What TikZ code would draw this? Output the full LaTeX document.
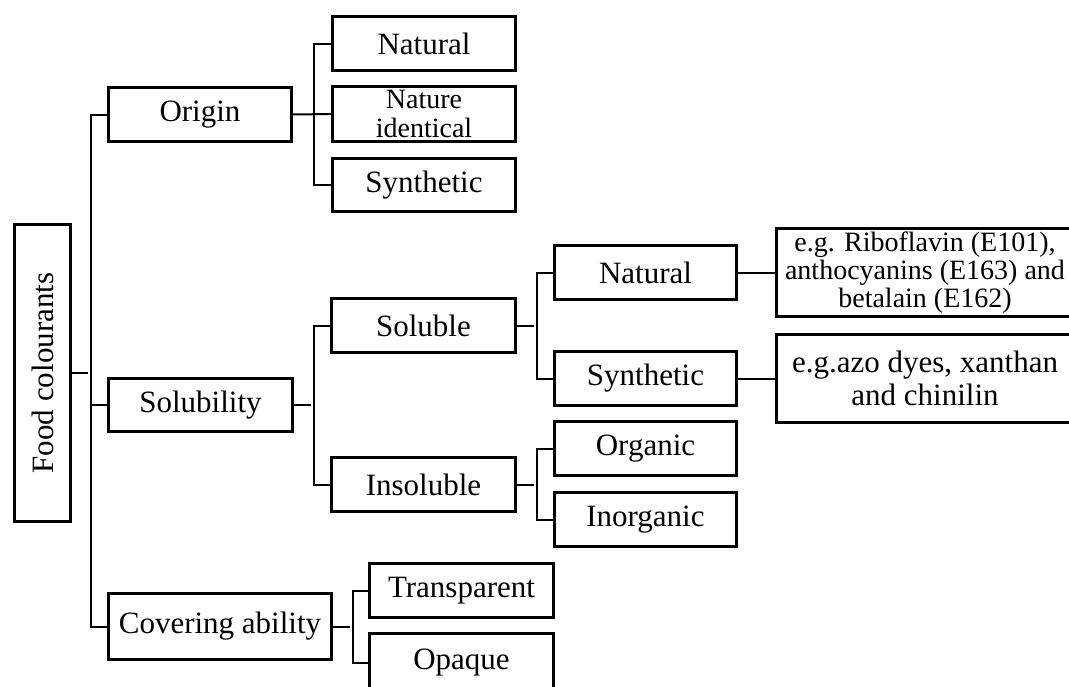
\documentclass[tikz,border=0pt]{standalone}
\usepackage{fontspec}
\setmainfont{Liberation Serif}
\begin{document}
\begin{tikzpicture}[x=1pt,y=-1pt,
  box/.style={draw,line width=3pt,inner sep=0pt,outer sep=0pt,align=center,
    font=\fontsize{31}{33}\selectfont},
  conn/.style={line width=2pt}]
\useasboundingbox (0,0) rectangle (1069,686);
\clip (0,0) rectangle (1069,686);
% root
\node[box,rotate=90,minimum width=297pt,minimum height=56pt] (food) at (42.5,373) {Food colourants};
% level 1
\node[box,minimum width=183pt,minimum height=54pt] (origin) at (200,114.5) {Origin};
\node[box,minimum width=184pt,minimum height=53pt] (solub) at (200.5,405) {Solubility};
\node[box,minimum width=223pt,minimum height=66pt] (cover) at (220,626.5) {Covering ability};
% origin children
\node[box,minimum width=183pt,minimum height=54pt] (nat1) at (424,43.5) {Natural};
\node[box,minimum width=183pt,minimum height=55pt,font=\fontsize{28}{29}\selectfont] (natid) at (424,114) {Nature\\identical};
\node[box,minimum width=183pt,minimum height=53pt] (syn1) at (424,185) {Synthetic};
% solubility children
\node[box,minimum width=184pt,minimum height=54pt] (soluble) at (423.5,325.5) {Soluble};
\node[box,minimum width=184pt,minimum height=54pt] (insoluble) at (423.5,484.5) {Insoluble};
% soluble children
\node[box,minimum width=182pt,minimum height=54pt] (nat2) at (645.5,272.5) {Natural};
\node[box,minimum width=182pt,minimum height=54pt] (syn2) at (645.5,378.5) {Synthetic};
% insoluble children
\node[box,minimum width=182pt,minimum height=54pt] (organic) at (645.5,448.5) {Organic};
\node[box,minimum width=182pt,minimum height=54pt] (inorganic) at (645.5,519.5) {Inorganic};
% examples
\node[box,minimum width=297pt,minimum height=88pt,font=\fontsize{28}{28}\selectfont] (ex1) at (925,272.5) {e.g. Riboflavin (E101),\\anthocyanins (E163) and\\betalain (E162)};
\node[box,minimum width=297pt,minimum height=88pt,font=\fontsize{31}{33}\selectfont] (ex2) at (925,378.5) {e.g.azo dyes, xanthan\\and chinilin};
% covering children
\node[box,minimum width=184pt,minimum height=54pt] (transp) at (461.5,590.5) {Transparent};
\node[box,minimum width=184pt,minimum height=60pt] (opaque) at (461.5,663) {\raisebox{6pt}{Opaque}};
% connectors
\draw[conn] (food.south) -- ++(17,0);
\draw[conn] (origin.west) -- ++(-18,0) |- (cover.west);
\draw[conn] (solub.west) -- ++(-18,0);
\draw[conn] (origin.east) -- (natid.west);
\draw[conn] (nat1.west) -- ++(-19,0) |- (syn1.west);
\draw[conn] (solub.east) -- ++(18,0);
\draw[conn] (soluble.west) -- ++(-18,0) |- (insoluble.west);
\draw[conn] (soluble.east) -- ++(18,0);
\draw[conn] (nat2.west) -- ++(-18,0) |- (syn2.west);
\draw[conn] (insoluble.east) -- ++(18,0);
\draw[conn] (organic.west) -- ++(-18,0) |- (inorganic.west);
\draw[conn] (nat2.east) -- (ex1.west);
\draw[conn] (syn2.east) -- (ex2.west);
\draw[conn] (cover.east) -- ++(18,0);
\draw[conn] (transp.west) -- ++(-17,0) |- (opaque.west);
\end{tikzpicture}
\end{document}
